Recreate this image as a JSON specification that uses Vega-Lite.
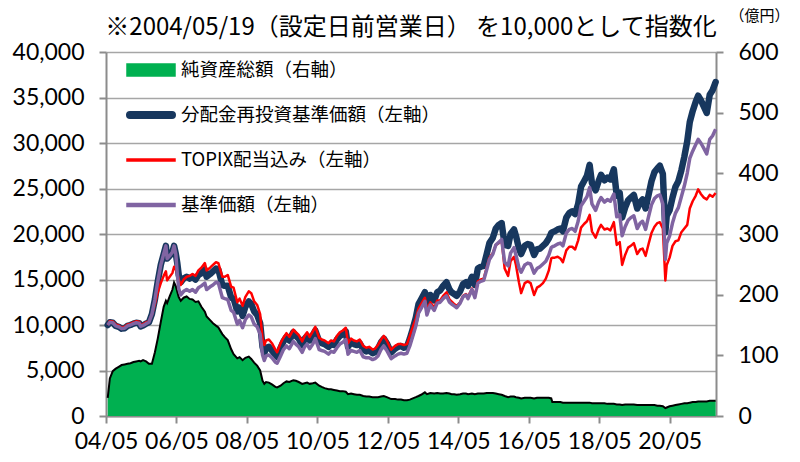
{
"$schema":"https://vega.github.io/schema/vega-lite/v6.json",
"width":610,"height":364,
"autosize":{"type":"none"},
"padding":{"left":106,"top":52,"right":84,"bottom":46},
"background":"white",
"config":{"view":{"stroke":null},"font":"Lato",
 "legend":{"title":null,"orient":"none","legendX":32,"legendY":5,"padding":0,
   "symbolSize":576,"symbolStrokeWidth":1.5,"symbolOffset":0,
   "labelFont":"Noto Sans CJK JP","labelFontSize":18.5,"labelColor":"black","labelOffset":17,"rowPadding":22,"labelLimit":400}},
"title":{"text":"※2004/05/19（設定日前営業日） を10,000として指数化","font":"Noto Sans CJK JP","fontSize":24,"fontWeight":"normal","color":"black","anchor":"middle","frame":"group","offset":10,"dy":42},
"data":{"values":[
{"d":"2004-05-19","b":10000,"p":10000,"r":10000,"a":30},
{"d":"2004-06-10","b":10300,"p":10300,"r":10450,"a":62},
{"d":"2004-07-10","b":10250,"p":10250,"r":10400,"a":74},
{"d":"2004-08-10","b":9900,"p":9900,"r":10050,"a":78},
{"d":"2004-09-10","b":9800,"p":9800,"r":9950,"a":81},
{"d":"2004-10-10","b":9600,"p":9600,"r":9700,"a":84},
{"d":"2004-11-10","b":9650,"p":9650,"r":9800,"a":85},
{"d":"2004-12-10","b":9900,"p":9900,"r":10050,"a":86},
{"d":"2005-01-10","b":10000,"p":10000,"r":10150,"a":87},
{"d":"2005-02-10","b":10150,"p":10150,"r":10300,"a":89},
{"d":"2005-03-10","b":10250,"p":10250,"r":10400,"a":90},
{"d":"2005-04-10","b":10200,"p":10200,"r":10350,"a":91},
{"d":"2005-04-25","b":9850,"p":9850,"r":10000,"a":90},
{"d":"2005-05-20","b":9950,"p":9950,"r":10100,"a":92},
{"d":"2005-06-20","b":10150,"p":10150,"r":10300,"a":90},
{"d":"2005-07-20","b":10300,"p":10300,"r":10400,"a":86},
{"d":"2005-08-20","b":11200,"p":11200,"r":11100,"a":86},
{"d":"2005-09-20","b":12800,"p":12800,"r":12300,"a":105},
{"d":"2005-10-20","b":14800,"p":14800,"r":13600,"a":128},
{"d":"2005-11-20","b":16600,"p":16600,"r":14600,"a":155},
{"d":"2005-12-20","b":17800,"p":17800,"r":15400,"a":180},
{"d":"2006-01-12","b":18700,"p":18700,"r":15900,"a":190},
{"d":"2006-01-25","b":17300,"p":17300,"r":14900,"a":186},
{"d":"2006-02-20","b":17600,"p":17600,"r":15300,"a":197},
{"d":"2006-03-20","b":18000,"p":18000,"r":15700,"a":208},
{"d":"2006-04-07","b":18700,"p":18700,"r":16400,"a":220},
{"d":"2006-04-25","b":17800,"p":17800,"r":16100,"a":214},
{"d":"2006-05-10","b":16800,"p":15600,"r":15700,"a":205},
{"d":"2006-05-25","b":15500,"p":14000,"r":15000,"a":196},
{"d":"2006-06-15","b":14700,"p":13300,"r":14400,"a":190},
{"d":"2006-07-15","b":15100,"p":13700,"r":15000,"a":195},
{"d":"2006-08-15","b":15300,"p":13900,"r":15300,"a":197},
{"d":"2006-09-15","b":15100,"p":13700,"r":15400,"a":193},
{"d":"2006-10-15","b":15300,"p":13900,"r":15600,"a":192},
{"d":"2006-11-15","b":15000,"p":13600,"r":15400,"a":188},
{"d":"2006-12-15","b":15500,"p":14100,"r":16000,"a":189},
{"d":"2007-01-15","b":15700,"p":14300,"r":16300,"a":180},
{"d":"2007-02-20","b":16100,"p":14600,"r":16800,"a":172},
{"d":"2007-03-10","b":15300,"p":13900,"r":16000,"a":164},
{"d":"2007-04-15","b":15600,"p":14200,"r":16300,"a":158},
{"d":"2007-05-15","b":15900,"p":14400,"r":16600,"a":153},
{"d":"2007-06-15","b":16200,"p":14700,"r":16900,"a":149},
{"d":"2007-07-10","b":16100,"p":14600,"r":16800,"a":146},
{"d":"2007-08-20","b":14400,"p":13000,"r":15300,"a":135},
{"d":"2007-09-15","b":14300,"p":12900,"r":15300,"a":130},
{"d":"2007-10-15","b":14300,"p":12800,"r":15500,"a":125},
{"d":"2007-11-20","b":13000,"p":11600,"r":14200,"a":110},
{"d":"2007-12-15","b":12900,"p":11400,"r":14100,"a":102},
{"d":"2008-01-22","b":11500,"p":10100,"r":12500,"a":95},
{"d":"2008-02-15","b":11900,"p":10500,"r":12900,"a":97},
{"d":"2008-03-17","b":11000,"p":9700,"r":12100,"a":92},
{"d":"2008-04-15","b":12000,"p":10600,"r":13100,"a":96},
{"d":"2008-05-20","b":12600,"p":11100,"r":13700,"a":98},
{"d":"2008-06-15","b":12300,"p":10900,"r":13500,"a":94},
{"d":"2008-07-15","b":11500,"p":10100,"r":12600,"a":88},
{"d":"2008-08-15","b":11100,"p":9800,"r":12200,"a":83},
{"d":"2008-09-15","b":10200,"p":9000,"r":11200,"a":75},
{"d":"2008-10-10","b":7600,"p":6700,"r":8500,"a":58},
{"d":"2008-10-28","b":6900,"p":6100,"r":7800,"a":53},
{"d":"2008-11-15","b":7500,"p":6600,"r":8300,"a":56},
{"d":"2008-12-15","b":7600,"p":6700,"r":8400,"a":55},
{"d":"2009-01-15","b":7200,"p":6400,"r":8000,"a":52},
{"d":"2009-02-20","b":6700,"p":5900,"r":7300,"a":48},
{"d":"2009-03-10","b":6500,"p":5800,"r":7000,"a":47},
{"d":"2009-04-15","b":7500,"p":6600,"r":8000,"a":50},
{"d":"2009-05-15","b":8200,"p":7300,"r":8600,"a":54},
{"d":"2009-06-15","b":8700,"p":7700,"r":9100,"a":57},
{"d":"2009-07-15","b":8300,"p":7400,"r":8700,"a":56},
{"d":"2009-08-25","b":9200,"p":8200,"r":9500,"a":59},
{"d":"2009-09-20","b":8800,"p":7900,"r":9200,"a":58},
{"d":"2009-10-20","b":8500,"p":7600,"r":8900,"a":56},
{"d":"2009-11-25","b":7800,"p":7000,"r":8200,"a":53},
{"d":"2009-12-20","b":8500,"p":7600,"r":8800,"a":54},
{"d":"2010-01-15","b":8800,"p":7900,"r":9200,"a":55},
{"d":"2010-02-10","b":8300,"p":7400,"r":8700,"a":53},
{"d":"2010-03-15","b":8900,"p":7900,"r":9300,"a":54},
{"d":"2010-04-10","b":9400,"p":8500,"r":9800,"a":55},
{"d":"2010-05-20","b":8200,"p":7300,"r":8600,"a":50},
{"d":"2010-06-15","b":8000,"p":7200,"r":8400,"a":48},
{"d":"2010-07-15","b":7900,"p":7100,"r":8300,"a":46},
{"d":"2010-08-25","b":7600,"p":6800,"r":8000,"a":44},
{"d":"2010-09-20","b":7900,"p":7100,"r":8300,"a":44},
{"d":"2010-10-20","b":7800,"p":7000,"r":8200,"a":43},
{"d":"2010-11-20","b":8400,"p":7500,"r":8800,"a":42},
{"d":"2010-12-20","b":8800,"p":7900,"r":9200,"a":41},
{"d":"2011-01-20","b":9000,"p":8100,"r":9400,"a":41},
{"d":"2011-02-20","b":9300,"p":8400,"r":9700,"a":40},
{"d":"2011-03-15","b":7600,"p":6800,"r":8000,"a":36},
{"d":"2011-04-15","b":8100,"p":7200,"r":8500,"a":37},
{"d":"2011-05-15","b":7900,"p":7100,"r":8300,"a":36},
{"d":"2011-06-15","b":7800,"p":7000,"r":8200,"a":35},
{"d":"2011-07-15","b":8000,"p":7200,"r":8400,"a":35},
{"d":"2011-08-20","b":7300,"p":6500,"r":7700,"a":33},
{"d":"2011-09-20","b":7100,"p":6400,"r":7500,"a":32},
{"d":"2011-10-20","b":7200,"p":6400,"r":7600,"a":32},
{"d":"2011-11-25","b":6900,"p":6200,"r":7300,"a":31},
{"d":"2011-12-20","b":7000,"p":6300,"r":7400,"a":31},
{"d":"2012-01-20","b":7400,"p":6600,"r":7800,"a":31},
{"d":"2012-02-20","b":8100,"p":7300,"r":8400,"a":32},
{"d":"2012-03-20","b":8500,"p":7700,"r":8800,"a":33},
{"d":"2012-04-20","b":8000,"p":7200,"r":8300,"a":31},
{"d":"2012-05-20","b":7300,"p":6600,"r":7600,"a":29},
{"d":"2012-06-05","b":7000,"p":6300,"r":7300,"a":28},
{"d":"2012-07-15","b":7400,"p":6600,"r":7700,"a":28},
{"d":"2012-08-15","b":7600,"p":6800,"r":7900,"a":27},
{"d":"2012-09-15","b":7700,"p":6900,"r":7900,"a":27},
{"d":"2012-10-15","b":7500,"p":6800,"r":7800,"a":26},
{"d":"2012-11-15","b":7600,"p":6900,"r":7900,"a":26},
{"d":"2012-12-15","b":8500,"p":7700,"r":8800,"a":27},
{"d":"2013-01-15","b":9600,"p":8800,"r":9800,"a":29},
{"d":"2013-02-15","b":10800,"p":9900,"r":10700,"a":31},
{"d":"2013-03-15","b":12300,"p":11300,"r":11800,"a":33},
{"d":"2013-04-10","b":12800,"p":11800,"r":12300,"a":35},
{"d":"2013-05-20","b":13600,"p":12600,"r":13000,"a":39},
{"d":"2013-06-10","b":12100,"p":11100,"r":11700,"a":36},
{"d":"2013-07-15","b":13300,"p":12200,"r":12500,"a":38},
{"d":"2013-08-25","b":12700,"p":11600,"r":11900,"a":37},
{"d":"2013-09-25","b":13600,"p":12400,"r":12700,"a":38},
{"d":"2013-10-25","b":13800,"p":12500,"r":12700,"a":37},
{"d":"2013-11-25","b":14300,"p":12900,"r":13200,"a":37},
{"d":"2013-12-30","b":14700,"p":13200,"r":13600,"a":38},
{"d":"2014-01-30","b":13900,"p":12500,"r":12800,"a":37},
{"d":"2014-02-20","b":13600,"p":12300,"r":12600,"a":36},
{"d":"2014-03-20","b":13400,"p":12100,"r":12300,"a":36},
{"d":"2014-04-15","b":13200,"p":11900,"r":12100,"a":35},
{"d":"2014-05-20","b":13700,"p":12400,"r":12500,"a":36},
{"d":"2014-06-20","b":14500,"p":13100,"r":13200,"a":37},
{"d":"2014-07-20","b":14700,"p":13300,"r":13400,"a":37},
{"d":"2014-08-10","b":14300,"p":12900,"r":13100,"a":36},
{"d":"2014-09-20","b":15300,"p":13900,"r":14000,"a":37},
{"d":"2014-10-20","b":14400,"p":13000,"r":13100,"a":36},
{"d":"2014-11-20","b":16200,"p":14600,"r":14800,"a":37},
{"d":"2014-12-20","b":16400,"p":14800,"r":15000,"a":37},
{"d":"2015-01-20","b":16500,"p":14900,"r":15100,"a":37},
{"d":"2015-02-20","b":17800,"p":16100,"r":16300,"a":38},
{"d":"2015-03-20","b":19000,"p":17200,"r":17400,"a":38},
{"d":"2015-04-25","b":19600,"p":17800,"r":17900,"a":38},
{"d":"2015-05-25","b":20600,"p":18800,"r":18800,"a":37},
{"d":"2015-06-25","b":21000,"p":19100,"r":19000,"a":36},
{"d":"2015-07-25","b":21200,"p":19400,"r":19300,"a":35},
{"d":"2015-08-25","b":18800,"p":16900,"r":16200,"a":33},
{"d":"2015-09-30","b":18700,"p":16500,"r":15400,"a":31},
{"d":"2015-10-25","b":20000,"p":17900,"r":17000,"a":32},
{"d":"2015-11-30","b":20500,"p":18500,"r":17500,"a":32},
{"d":"2015-12-20","b":19800,"p":17700,"r":16600,"a":31},
{"d":"2016-01-20","b":18400,"p":16300,"r":14700,"a":30},
{"d":"2016-02-12","b":17800,"p":15800,"r":13500,"a":29},
{"d":"2016-03-20","b":18700,"p":16600,"r":14600,"a":30},
{"d":"2016-04-20","b":18900,"p":16800,"r":14800,"a":30},
{"d":"2016-05-20","b":18800,"p":16700,"r":14600,"a":30},
{"d":"2016-06-25","b":17700,"p":15700,"r":13300,"a":29},
{"d":"2016-07-25","b":18300,"p":16200,"r":14100,"a":30},
{"d":"2016-08-25","b":18400,"p":16400,"r":14300,"a":30},
{"d":"2016-09-25","b":18700,"p":16700,"r":14600,"a":30},
{"d":"2016-10-25","b":19000,"p":17000,"r":15100,"a":30},
{"d":"2016-11-25","b":19500,"p":17700,"r":16000,"a":30},
{"d":"2016-12-20","b":20100,"p":18500,"r":17300,"a":29},
{"d":"2016-12-31","b":20200,"p":18600,"r":17400,"a":23},
{"d":"2017-01-25","b":20300,"p":18700,"r":17400,"a":23},
{"d":"2017-02-25","b":20500,"p":18900,"r":17500,"a":23},
{"d":"2017-03-25","b":20600,"p":19000,"r":17300,"a":23},
{"d":"2017-04-20","b":20300,"p":18700,"r":16900,"a":22},
{"d":"2017-05-25","b":21800,"p":20100,"r":18200,"a":22},
{"d":"2017-06-25","b":22300,"p":20500,"r":18600,"a":22},
{"d":"2017-07-25","b":22500,"p":20600,"r":18600,"a":22},
{"d":"2017-08-25","b":22200,"p":20300,"r":18300,"a":22},
{"d":"2017-09-25","b":23300,"p":21400,"r":19300,"a":22},
{"d":"2017-10-25","b":25200,"p":23100,"r":20700,"a":22},
{"d":"2017-11-25","b":25800,"p":23600,"r":21100,"a":22},
{"d":"2017-12-25","b":26400,"p":24100,"r":21400,"a":22},
{"d":"2018-01-22","b":27600,"p":25100,"r":22100,"a":22},
{"d":"2018-02-15","b":25600,"p":23300,"r":20300,"a":21},
{"d":"2018-03-25","b":24800,"p":22600,"r":19600,"a":21},
{"d":"2018-04-25","b":25800,"p":23500,"r":20500,"a":21},
{"d":"2018-05-20","b":26500,"p":24000,"r":21000,"a":21},
{"d":"2018-06-25","b":25900,"p":23500,"r":20500,"a":21},
{"d":"2018-07-25","b":26200,"p":23800,"r":20600,"a":20},
{"d":"2018-08-25","b":26000,"p":23600,"r":20400,"a":20},
{"d":"2018-09-30","b":27100,"p":24400,"r":21300,"a":20},
{"d":"2018-10-30","b":24200,"p":21900,"r":18800,"a":19},
{"d":"2018-11-30","b":24500,"p":22100,"r":19100,"a":19},
{"d":"2018-12-25","b":21800,"p":19800,"r":16600,"a":18},
{"d":"2019-01-25","b":22900,"p":20800,"r":17700,"a":19},
{"d":"2019-02-25","b":23700,"p":21500,"r":18500,"a":19},
{"d":"2019-03-25","b":24000,"p":21800,"r":18700,"a":19},
{"d":"2019-04-25","b":24300,"p":22000,"r":19000,"a":19},
{"d":"2019-05-30","b":22800,"p":20600,"r":17800,"a":18},
{"d":"2019-06-30","b":23500,"p":21200,"r":18300,"a":18},
{"d":"2019-07-25","b":23800,"p":21400,"r":18400,"a":18},
{"d":"2019-08-25","b":22800,"p":20500,"r":17600,"a":18},
{"d":"2019-09-25","b":24300,"p":21900,"r":18900,"a":18},
{"d":"2019-10-25","b":25800,"p":23200,"r":20100,"a":18},
{"d":"2019-11-25","b":26800,"p":23900,"r":20800,"a":18},
{"d":"2019-12-25","b":27200,"p":24200,"r":21200,"a":17},
{"d":"2020-01-20","b":27500,"p":24300,"r":21300,"a":17},
{"d":"2020-02-20","b":26600,"p":23300,"r":20600,"a":16},
{"d":"2020-03-17","b":20200,"p":17200,"r":14900,"a":13},
{"d":"2020-03-31","b":22000,"p":19000,"r":16600,"a":14},
{"d":"2020-04-30","b":22600,"p":19800,"r":17400,"a":16},
{"d":"2020-05-30","b":24000,"p":21200,"r":18700,"a":17},
{"d":"2020-06-30","b":25200,"p":22300,"r":19200,"a":18},
{"d":"2020-07-30","b":25800,"p":22900,"r":19300,"a":19},
{"d":"2020-08-30","b":27000,"p":24100,"r":20200,"a":20},
{"d":"2020-09-30","b":28500,"p":25300,"r":20600,"a":21},
{"d":"2020-10-30","b":30200,"p":26700,"r":21000,"a":21},
{"d":"2020-11-25","b":32300,"p":28300,"r":22800,"a":22},
{"d":"2020-12-25","b":33500,"p":29100,"r":23600,"a":23},
{"d":"2021-01-25","b":34500,"p":29800,"r":24200,"a":23},
{"d":"2021-02-20","b":35200,"p":30400,"r":24900,"a":24},
{"d":"2021-03-20","b":34700,"p":30000,"r":24400,"a":24},
{"d":"2021-04-20","b":34000,"p":29400,"r":24000,"a":24},
{"d":"2021-05-20","b":33300,"p":28800,"r":23800,"a":24},
{"d":"2021-06-20","b":35300,"p":30400,"r":24300,"a":25},
{"d":"2021-07-20","b":35800,"p":30800,"r":24100,"a":25},
{"d":"2021-08-20","b":36700,"p":31500,"r":24500,"a":25}
]},
"encoding":{
 "x":{"field":"d","type":"temporal",
  "scale":{"domain":[{"year":2004,"month":5,"date":1},{"year":2021,"month":8,"date":24}]},
  "axis":{"title":null,"format":"%y/%m","grid":false,
   "values":[{"year":2004,"month":5,"date":1},{"year":2006,"month":5,"date":1},{"year":2008,"month":5,"date":1},{"year":2010,"month":5,"date":1},{"year":2012,"month":5,"date":1},{"year":2014,"month":5,"date":1},{"year":2016,"month":5,"date":1},{"year":2018,"month":5,"date":1},{"year":2020,"month":5,"date":1}],
   "labelFont":"Lato","labelFontSize":23,"labelColor":"black","labelPadding":7,"labelFlush":false,"labelOverlap":false,
   "tickSize":7,"tickColor":"#8c8c8c","tickWidth":2,"domainColor":"#8c8c8c","domainWidth":2}}
},
"layer":[
 {"layer":[
   {"mark":{"type":"area","opacity":1},
    "encoding":{
     "y":{"field":"a","type":"quantitative","scale":{"domain":[0,600]},
      "axis":{"orient":"right","values":[0,100,200,300,400,500,600],"format":"d","grid":false,
       "labelFont":"Lato","labelFontSize":23,"labelColor":"black","labelPadding":15,
       "tickSize":7,"tickColor":"#8c8c8c","tickWidth":2,"domainColor":"#8c8c8c","domainWidth":2,
       "title":"（億円）","titleAngle":0,"titleFont":"Noto Sans CJK JP","titleFontSize":15,"titleFontWeight":"normal","titleColor":"black",
       "titleX":43,"titleY":-37,"titleAlign":"center","titleBaseline":"middle"}},
     "color":{"datum":"純資産総額（右軸）","type":"nominal",
      "scale":{"domain":["純資産総額（右軸）","分配金再投資基準価額（左軸）","TOPIX配当込み（左軸）","基準価額（左軸）"],"range":["#00B050","#17375E","#FF0000","#8064A2"]},
      "legend":{"encoding":{"symbols":{
         "shape":{"value":{"expr":"datum.value == '純資産総額（右軸）' ? 'M-2,-0.5H2V0.5H-2Z' : datum.value == '分配金再投資基準価額（左軸）' ? 'M-1.75,-0.27H1.75A0.27,0.27,0,0,1,1.75,0.27H-1.75A0.27,0.27,0,0,1,-1.75,-0.27Z' : datum.value == 'TOPIX配当込み（左軸）' ? 'M-2,-0.09H2V0.09H-2Z' : 'M-2,-0.13H2V0.13H-2Z'"}},
         "fill":{"value":{"expr":"datum.value == '純資産総額（右軸）' ? '#00B050' : datum.value == '分配金再投資基準価額（左軸）' ? '#17375E' : datum.value == 'TOPIX配当込み（左軸）' ? '#FF0000' : '#8064A2'"}},
         "stroke":{"value":{"expr":"datum.value == '純資産総額（右軸）' ? 'black' : 'transparent'"}},
         "opacity":{"value":1},"fillOpacity":{"value":1},"strokeWidth":{"value":1.5}}}}}}},
   {"mark":{"type":"line","color":"black","strokeWidth":2},
    "encoding":{"y":{"field":"a","type":"quantitative"}}}
 ]},
 {"layer":[
   {"mark":{"type":"line","strokeWidth":6.5,"strokeCap":"round","strokeJoin":"round"},
    "encoding":{
     "y":{"field":"b","type":"quantitative","scale":{"domain":[0,40000]},
      "axis":{"orient":"left","title":null,"values":[0,5000,10000,15000,20000,25000,30000,35000,40000],"format":",d",
       "grid":true,"gridColor":"#a6a6a6","gridWidth":1.5,
       "labelFont":"Lato","labelFontSize":23,"labelColor":"black","labelPadding":15,
       "tickSize":7,"tickColor":"#8c8c8c","tickWidth":2,"domainColor":"#8c8c8c","domainWidth":2}},
     "color":{"datum":"分配金再投資基準価額（左軸）","type":"nominal"}}},
   {"mark":{"type":"line","strokeWidth":2.5,"strokeJoin":"round"},
    "encoding":{
     "y":{"field":"r","type":"quantitative"},
     "color":{"datum":"TOPIX配当込み（左軸）","type":"nominal"}}},
   {"mark":{"type":"line","strokeWidth":3.5,"strokeJoin":"round"},
    "encoding":{
     "y":{"field":"p","type":"quantitative"},
     "color":{"datum":"基準価額（左軸）","type":"nominal"}}}
 ]}
],
"resolve":{"scale":{"y":"independent"}}
}
